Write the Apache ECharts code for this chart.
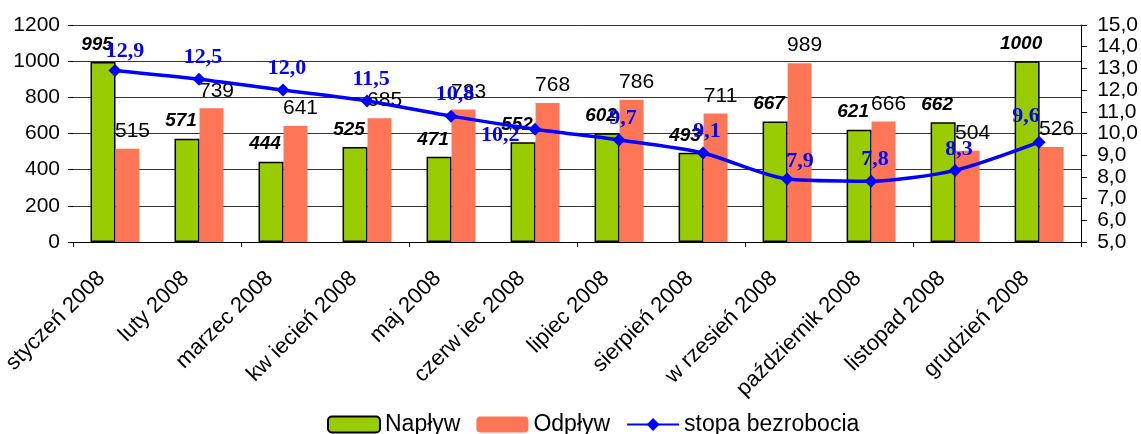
<!DOCTYPE html>
<html>
<head>
<meta charset="utf-8">
<script src="https://cdn.jsdelivr.net/npm/echarts@6/dist/echarts.min.js"></script>
<style>
  html, body { margin: 0; padding: 0; background: #fff; }
  #chart { width: 1141px; height: 434px; }
</style>
</head>
<body>
<div id="chart"></div>
<script>
const months = ['styczeń 2008', 'luty 2008', 'marzec 2008', 'kw iecień 2008', 'maj 2008', 'czerw iec 2008',
  'lipiec 2008', 'sierpień 2008', 'w rzesień 2008', 'październik 2008', 'listopad 2008', 'grudzień 2008']
const inflow = [995, 571, 444, 525, 471, 552, 602, 493, 667, 621, 662, 1000]
const outflow = [515, 739, 641, 685, 733, 768, 786, 711, 989, 666, 504, 526]
const rate = [12.9, 12.5, 12.0, 11.5, 10.8, 10.2, 9.7, 9.1, 7.9, 7.8, 8.3, 9.6]
const leftTicks = [0, 1200, 200]   // min, max, step
const rightTicks = [5, 15, 1]

// a few rate labels sit off the default spot in the original
const rateLabelShift = {
  0: { offset: [10, 2] },
  5: { position: 'left', distance: 9, offset: [0, 6] },
  8: { offset: [13, 4] },
  11: { offset: [-13, -4] }
}

const comma = v => v.toFixed(1).replace('.', ',')
const sans = 'Liberation Sans, Arial, sans-serif'

const chart = echarts.init(document.getElementById('chart'))

chart.setOption({
  animation: false,
  textStyle: { fontFamily: sans },
  grid: [
    { left: 73, right: 58, top: 25, bottom: 192 },
    // label-only grid: month labels in the original hang a bit left of their bars
    { left: 58, right: 73, top: 25, bottom: 192 }
  ],
  legend: {
    left: 322,
    top: 408,
    itemWidth: 52,
    itemHeight: 16,
    itemGap: 16,
    textStyle: { color: '#000', fontSize: 23, fontFamily: sans },
    data: ['Napływ', 'Odpływ', 'stopa bezrobocia']
  },
  xAxis: [
    {
      type: 'category',
      data: months,
      axisLine: { lineStyle: { color: '#000', width: 1 } },
      axisTick: { show: true, length: 5, lineStyle: { color: '#000' } },
      axisLabel: { show: false }
    },
    {
      type: 'category',
      gridIndex: 1,
      data: months,
      axisLine: { show: false },
      axisTick: { show: false },
      axisLabel: { rotate: 45, margin: 33, color: '#000', fontSize: 22, fontFamily: sans, interval: 0 }
    }
  ],
  yAxis: [
    {
      type: 'value',
      min: leftTicks[0],
      max: leftTicks[1],
      interval: leftTicks[2],
      axisLine: { show: false },
      axisTick: { show: true, length: 5, lineStyle: { color: '#000' } },
      axisLabel: { color: '#000', fontSize: 21, margin: 13, formatter: v => String(v) },
      splitLine: { lineStyle: { color: '#333', width: 1 } }
    },
    {
      type: 'value',
      position: 'right',
      min: rightTicks[0],
      max: rightTicks[1],
      interval: rightTicks[2],
      axisLine: { show: true, lineStyle: { color: '#000' } },
      axisTick: { show: true, length: 6, lineStyle: { color: '#000' } },
      axisLabel: { color: '#000', fontSize: 21, margin: 16, formatter: comma },
      splitLine: { show: false }
    },
    { type: 'value', gridIndex: 1, show: false }
  ],
  series: [
    {
      name: 'Napływ',
      type: 'bar',
      data: inflow,
      barWidth: 25,
      barGap: '0%',
      itemStyle: { color: '#99cc00', borderColor: '#000', borderWidth: 1.5 },
      label: {
        show: true,
        position: 'top',
        distance: 8,
        offset: [-6, 0],
        color: '#000',
        fontSize: 19,
        fontWeight: 'bold',
        fontStyle: 'italic'
      }
    },
    {
      name: 'Odpływ',
      type: 'bar',
      data: outflow,
      barWidth: 24,
      itemStyle: { color: '#ff7656' },
      label: {
        show: true,
        position: 'top',
        distance: 7,
        offset: [5, 0],
        color: '#000',
        fontSize: 21
      }
    },
    {
      name: 'stopa bezrobocia',
      type: 'line',
      yAxisIndex: 1,
      smooth: 0.25,
      z: 5,
      symbol: 'diamond',
      symbolSize: 13,
      lineStyle: { color: '#0000ff', width: 3.5 },
      itemStyle: { color: '#0000ff' },
      label: {
        show: true,
        position: 'top',
        distance: 4,
        offset: [4, 0],
        color: '#0000ff',
        fontSize: 22,
        fontWeight: 'bold',
        fontFamily: 'Liberation Serif, Times New Roman, serif',
        formatter: p => comma(p.value)
      },
      data: rate.map((v, i) => rateLabelShift[i] ? { value: v, label: rateLabelShift[i] } : v)
    }
  ]
})

window.addEventListener('resize', () => chart.resize())
</script>
</body>
</html>
